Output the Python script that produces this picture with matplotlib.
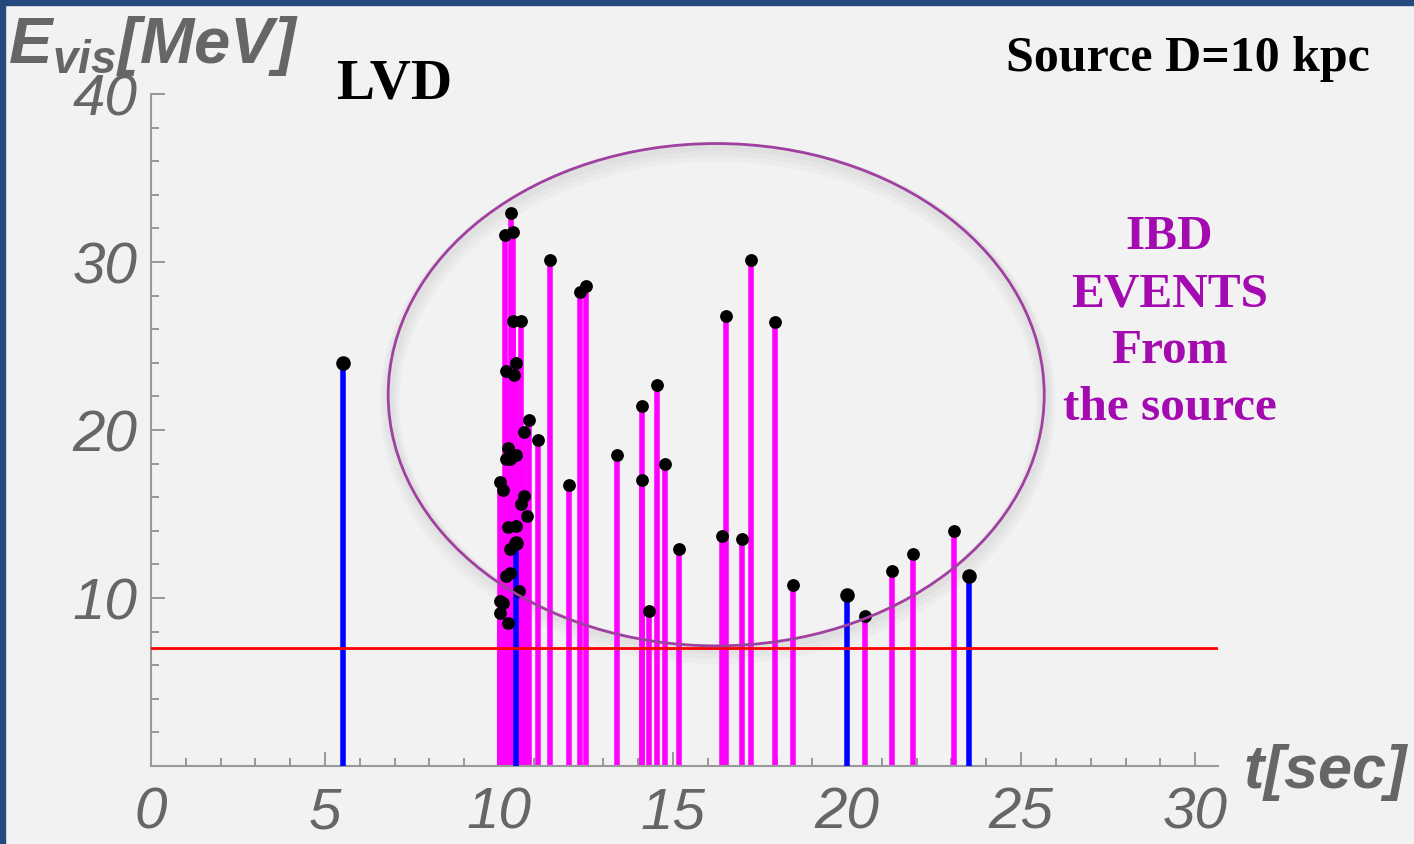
import numpy as np
import matplotlib.pyplot as plt
from matplotlib.patches import Ellipse, Rectangle
from matplotlib.ticker import MultipleLocator

plt.rcParams['mathtext.fontset'] = 'custom'
plt.rcParams['mathtext.bf'] = 'Liberation Sans:italic:bold'
plt.rcParams['mathtext.rm'] = 'Liberation Sans:italic:bold'

# IBD events from the source (time [s], visible energy [MeV])
t_ibd = [10.35, 10.18, 10.40, 10.40, 10.63, 10.21, 10.43, 10.49, 10.86, 10.72,
         11.12, 10.26, 10.21, 10.49, 10.32, 10.03, 10.11, 10.72, 10.63, 10.81,
         10.26, 10.49, 10.32, 10.21, 10.32, 10.57, 10.03, 10.11, 10.03, 10.26,
         11.47, 12.33, 12.50, 12.01, 13.39, 14.11, 14.11, 14.55, 14.77, 15.18,
         14.31, 16.41, 16.52, 16.98, 17.24, 17.93, 18.45, 20.52, 21.29, 21.90,
         23.07]
e_ibd = [32.9, 31.6, 31.8, 26.5, 26.5, 23.5, 23.3, 24.0, 20.6, 19.9,
         19.4, 18.9, 18.3, 18.5, 18.3, 16.9, 16.4, 16.1, 15.6, 14.9,
         14.2, 14.3, 12.9, 11.3, 11.5, 10.4, 9.8, 9.7, 9.1, 8.5,
         30.1, 28.2, 28.6, 16.7, 18.5, 21.4, 17.0, 22.7, 18.0, 12.9,
         9.2, 13.7, 26.8, 13.5, 30.1, 26.4, 10.8, 8.9, 11.6, 12.6,
         14.0]

# background events
t_bkg = [5.52, 10.49, 20.0, 23.51]
e_bkg = [24.0, 13.3, 10.2, 11.3]

threshold = 7.0

grey = "#666666"
fig = plt.figure(figsize=(14.14, 8.45), dpi=100, facecolor="#f2f2f2")
ax = fig.add_axes([0.1068, 0.0923, 0.7544, 0.7953])
ax.set_facecolor("#f2f2f2")

# blue frame of the slide
fig.patches.append(Rectangle((0, 0.993), 1, 0.007, transform=fig.transFigure,
                             color="#26487c", zorder=0))
fig.patches.append(Rectangle((0, 0), 0.0035, 1, transform=fig.transFigure,
                             color="#26487c", zorder=0))

ax.vlines(t_ibd, 0, e_ibd, color="#ff00ff", lw=4, zorder=2)
ax.vlines(t_bkg, 0, e_bkg, color="#0000ff", lw=4, zorder=3)
ax.scatter(t_ibd, e_ibd, s=85, color="black", zorder=4, lw=0)
ax.scatter(t_bkg, e_bkg, s=110, color="black", zorder=4, lw=0)
ax.axhline(threshold, color="#ff0000", lw=2, zorder=3)

# shadowed ellipse around the source events
for k in range(3):
    ax.add_patch(Ellipse((16.28, 21.9 - 0.15 * k), 18.85, 29.9, fill=False,
                         ec="#808080", lw=6 + 4 * k, alpha=0.05, zorder=1))
ax.add_patch(Ellipse((16.24, 22.1), 18.85, 29.9, fill=False, ec="#a040a0",
                     lw=2, zorder=5))

ax.set_xlim(0, 30.65)
ax.set_ylim(0, 40)
ax.xaxis.set_major_locator(MultipleLocator(5))
ax.xaxis.set_minor_locator(MultipleLocator(1))
ax.yaxis.set_major_locator(MultipleLocator(10))
ax.yaxis.set_minor_locator(MultipleLocator(2))
ax.set_xticks([0, 5, 10, 15, 20, 25, 30])
ax.set_yticks([10, 20, 30, 40])
for s in ["top", "right"]:
    ax.spines[s].set_visible(False)
for s in ["left", "bottom"]:
    ax.spines[s].set_color("#999999")
    ax.spines[s].set_linewidth(1.5)
ax.tick_params(which="both", direction="in", color="#888888", width=1.2)
ax.tick_params(which="major", length=10)
ax.tick_params(which="minor", length=6)
ax.tick_params(axis="x", pad=14)
ax.tick_params(axis="y", pad=10)
for lab in ax.get_xticklabels() + ax.get_yticklabels():
    lab.set_fontfamily("Liberation Sans")
    lab.set_fontstyle("italic")
    lab.set_fontsize(42)
    lab.set_color(grey)

fig.text(0.006, 0.945, r"$\mathbf{E_{vis}[MeV]}$", fontsize=47, color=grey,
         ha="left", va="center")
fig.text(0.997, 0.086, r"$\mathbf{t[sec]}$", fontsize=44, color=grey,
         ha="right", va="center")

fig.text(0.2787, 0.900, "LVD", family="Liberation Serif", weight="bold",
         fontsize=41, ha="center", va="center")
fig.text(0.8398, 0.930, "Source D=10 kpc", family="Liberation Serif",
         weight="bold", fontsize=36, ha="center", va="center")
fig.text(0.827, 0.618, "IBD\nEVENTS\nFrom\nthe source", family="Liberation Serif",
         weight="bold", fontsize=35.5, color="#a30ab0", ha="center", va="center",
         linespacing=1.38)

fig.savefig("out.png", dpi=100, facecolor=fig.get_facecolor())
